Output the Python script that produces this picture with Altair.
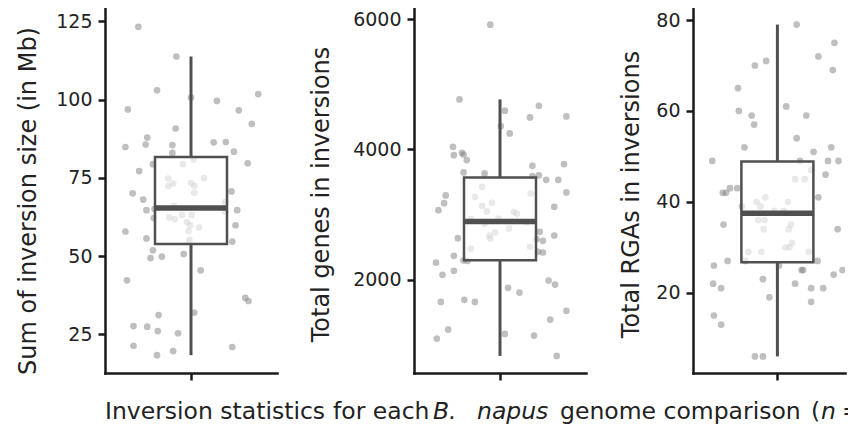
import altair as alt
import pandas as pd

# ---------------- data ----------------
# Panel 1: Sum of inversion size (in Mb)
size_mb = [123.3, 113.8, 103.0, 100.7, 99.6, 101.8, 96.9, 96.6, 92.3, 90.8,
           87.9, 85.7, 84.9, 85.5, 86.4, 86.5, 83.4, 83.0, 80.9, 79.4,
           79.4, 79.7, 77.2, 75.0, 74.8, 73.2, 72.4, 73.4, 72.5, 70.3,
           70.1, 70.7, 68.1, 64.7, 65.1, 66.1, 67.4, 64.3, 64.7, 62.2,
           62.4, 61.9, 63.2, 63.2, 60.9, 59.9, 59.2, 58.1, 59.9, 57.9,
           55.7, 55.2, 54.7, 51.9, 49.4, 49.9, 50.7, 45.5, 42.3, 36.7,
           35.7, 32.0, 31.2, 27.7, 27.5, 26.1, 25.4, 21.4, 19.7, 18.4, 21.0]
size_jitter = [-0.65, -0.18, -0.42, 0.0, 0.32, 0.83, -0.78, 0.59, 0.75, -0.19,
               -0.54, -0.56, -0.81, -0.23, 0.28, 0.43, 0.53, -0.23, 0.03, -0.47,
               -0.10, 0.70, -0.64, 0.16, -0.28, -0.22, -0.28, 0.0, 0.04, 0.04,
               -0.72, 0.50, -0.59, -0.55, -0.45, -0.21, 0.42, 0.42, 0.57, -0.46,
               -0.27, -0.20, -0.11, 0.01, -0.05, -0.01, 0.10, -0.03, 0.55, -0.81,
               -0.55, -0.02, 0.51, -0.47, -0.50, -0.36, -0.09, 0.12, -0.79, 0.67,
               0.71, 0.04, -0.40, -0.71, -0.54, -0.41, -0.16, -0.71, -0.22, -0.42, 0.51]
# whisker low, Q1, median, Q3, whisker high
size_box = [18.4, 53.9, 65.4, 81.7, 113.8]

# Panel 2: Total genes in inversions
genes = [5913, 4766, 4592, 4668, 4489, 4505, 4356, 4243, 4038, 3910,
         3946, 3920, 3834, 3746, 3772, 3644, 3629, 3588, 3598, 3531,
         3531, 3424, 3291, 3337, 3321, 3270, 3173, 3178, 3132, 3117,
         3065, 3045, 3040, 3009, 2927, 2937, 2855, 2876, 2784, 2722,
         2676, 2630, 2732, 2676, 2635, 2620, 2594, 2476, 2502, 2425,
         2415, 2364, 2292, 2287, 2261, 2133, 2072, 1985, 1923, 1872,
         1800, 1688, 1657, 1657, 1519, 1385, 1232, 1165, 1140, 1093, 827]
genes_jitter = [-0.12, -0.50, 0.06, 0.48, 0.37, 0.82, 0.01, 0.12, -0.58, -0.57,
                -0.47, -0.45, -0.41, 0.40, 0.79, -0.45, -0.19, 0.40, 0.48, 0.57,
                0.72, -0.22, -0.67, 0.82, 0.38, -0.31, -0.69, -0.10, -0.22, 0.67,
                -0.76, -0.16, 0.17, 0.21, -0.36, -0.02, -0.19, 0.33, 0.11, -0.06,
                -0.13, -0.12, 0.49, 0.67, -0.52, 0.45, 0.53, -0.36, 0.37, 0.47,
                0.53, -0.57, -0.45, -0.40, -0.79, -0.57, -0.71, 0.60, 0.68, 0.10,
                0.24, -0.44, -0.31, -0.73, 0.82, 0.62, -0.64, 0.06, 0.42, -0.78, 0.70]
genes_box = [827, 2297, 2891, 3567, 4766]

# Panel 3: Total RGAs in inversions
rgas = [79, 75, 72, 69, 70, 71, 65, 60, 61, 59,
        59, 57, 54, 52, 52, 51, 49, 49, 49, 49,
        47, 46, 45, 45, 42, 42, 43, 43, 41, 39,
        40, 41, 39, 40, 38, 38, 36, 36, 35, 35,
        34, 34, 34, 31, 30, 30, 29, 29, 29, 27,
        27, 27, 26, 26, 25, 25, 25, 24, 23, 22,
        22, 21, 21, 21, 19, 18, 15, 13, 6, 6]
rgas_jitter = [0.24, 0.71, 0.51, 0.69, -0.28, -0.14, -0.49, -0.48, 0.11, -0.32,
               0.36, -0.29, 0.24, -0.41, 0.67, 0.45, -0.81, 0.28, 0.63, 0.76,
               0.42, 0.60, 0.22, 0.34, -0.68, -0.64, -0.59, -0.50, 0.51, -0.44,
               -0.26, -0.15, -0.21, 0.13, -0.04, 0.08, -0.24, -0.16, -0.67, 0.17,
               0.14, -0.17, 0.75, 0.18, 0.10, 0.15, -0.36, -0.20, 0.39, -0.62,
               -0.40, 0.50, -0.79, 0.02, 0.30, 0.32, 0.81, 0.70, -0.18, -0.80,
               0.22, -0.70, 0.42, 0.57, -0.10, 0.42, -0.79, -0.70, -0.28, -0.18]
rgas_box = [6, 26.7, 37.5, 48.9, 79]

titles = ["Sum of inversion size (in Mb)", "Total genes in inversions", "Total RGAs in inversions"]
tick_values = [[25, 50, 75, 100, 125], [2000, 4000, 6000], [20, 40, 60, 80]]
y_domains = [[12.7, 129.3], [565, 6169], [2.35, 82.65]]

caption_parts = ["Inversion statistics", "for each", "B.", "napus", "genome comparison", "(", "n", "="]

FONT = "DejaVu Sans"
AXIS_C = "#1a1a1a"
BOX_C = "#505050"


def panel(vals, jit, box, title, ticks, ydom, xdom, width, title_x, title_y):
    pts = pd.DataFrame({"jitter": jit, "value": vals})
    st = pd.DataFrame({"pos": [0], "lo": [box[0]], "q1": [box[1]], "med": [box[2]],
                       "q3": [box[3]], "hi": [box[4]]})
    xs = alt.Scale(domain=xdom, nice=False, zero=False)
    ys = alt.Scale(domain=ydom, nice=False, zero=False)
    xax = alt.Axis(values=[0], labels=False, title=None, grid=False)
    yax = alt.Axis(values=ticks, format="d", title=title, grid=False,
                   titleX=title_x, titleY=title_y, titleBaseline="alphabetic",
                   titleAlign="center", titleAngle=270)

    points = alt.Chart(pts).mark_circle(size=45, color="#7f7f7f", opacity=0.5, clip=True).encode(
        x=alt.X("jitter:Q", scale=xs, axis=xax),
        y=alt.Y("value:Q", scale=ys, axis=yax),
    )
    base = alt.Chart(st)
    x_enc = alt.X("pos:Q", scale=xs, axis=xax)
    whisk_hi = base.mark_rule(color=BOX_C, strokeWidth=3).encode(
        x=x_enc, y=alt.Y("q3:Q", scale=ys, axis=yax), y2="hi:Q")
    whisk_lo = base.mark_rule(color=BOX_C, strokeWidth=3).encode(
        x=x_enc, y=alt.Y("lo:Q", scale=ys, axis=yax), y2="q1:Q")
    boxm = base.mark_bar(size=72, fill="white", fillOpacity=0.65, stroke=BOX_C,
                         strokeWidth=2.5).encode(
        x=x_enc, y=alt.Y("q1:Q", scale=ys, axis=yax), y2="q3:Q")
    med = base.mark_tick(orient="horizontal", size=72, thickness=5.5, color=BOX_C,
                         opacity=1).encode(
        x=x_enc, y=alt.Y("med:Q", scale=ys, axis=yax))
    return alt.layer(points, whisk_hi, whisk_lo, boxm, med).properties(width=width, height=365)


p1 = panel(size_mb, size_jitter, size_box, titles[0], tick_values[0], y_domains[0],
           [-1, 1], 172, -70, 192.5)
p2 = panel(genes, genes_jitter, genes_box, titles[1], tick_values[1], y_domains[1],
           [-1, 1], 172, -86, 186)
p3 = panel(rgas, rgas_jitter, rgas_box, titles[2], tick_values[2], y_domains[2],
           [-0.988, 0.779], 152, -55, 186)

row = alt.hconcat(p1, p2, p3, spacing=32)

cap_x = [0, 228, 328, 372, 455, 706, 716, 737]
cap_italic = [False, False, True, True, False, False, True, False]
cap_clip = [False, False, False, False, False, False, False, True]
pieces = []
for txt, xp, it, cl in zip(caption_parts, cap_x, cap_italic, cap_clip):
    pieces.append(
        alt.Chart(pd.DataFrame({"t": [txt]})).mark_text(
            align="left", baseline="alphabetic", font=FONT, fontSize=23.5,
            fontStyle="italic" if it else "normal", color="#222", clip=cl
        ).encode(text="t:N", x=alt.value(xp), y=alt.value(37))
    )
caption = alt.layer(*pieces).properties(width=743, height=43)

chart = alt.vconcat(row, caption, spacing=0).properties(
    padding={"left": 7, "top": 0, "right": 0, "bottom": 0}
).configure_view(stroke=None).configure_axis(
    domainColor=AXIS_C, domainWidth=2.5, domainCap="square",
    tickColor=AXIS_C, tickWidth=2.5, tickSize=7,
    labelFont=FONT, labelFontSize=19, labelColor="#222", labelPadding=6,
    titleFont=FONT, titleFontSize=24, titleFontWeight="normal", titleColor="#222",
)

chart.save("out.html", embed_options={"renderer": "svg", "actions": False})
